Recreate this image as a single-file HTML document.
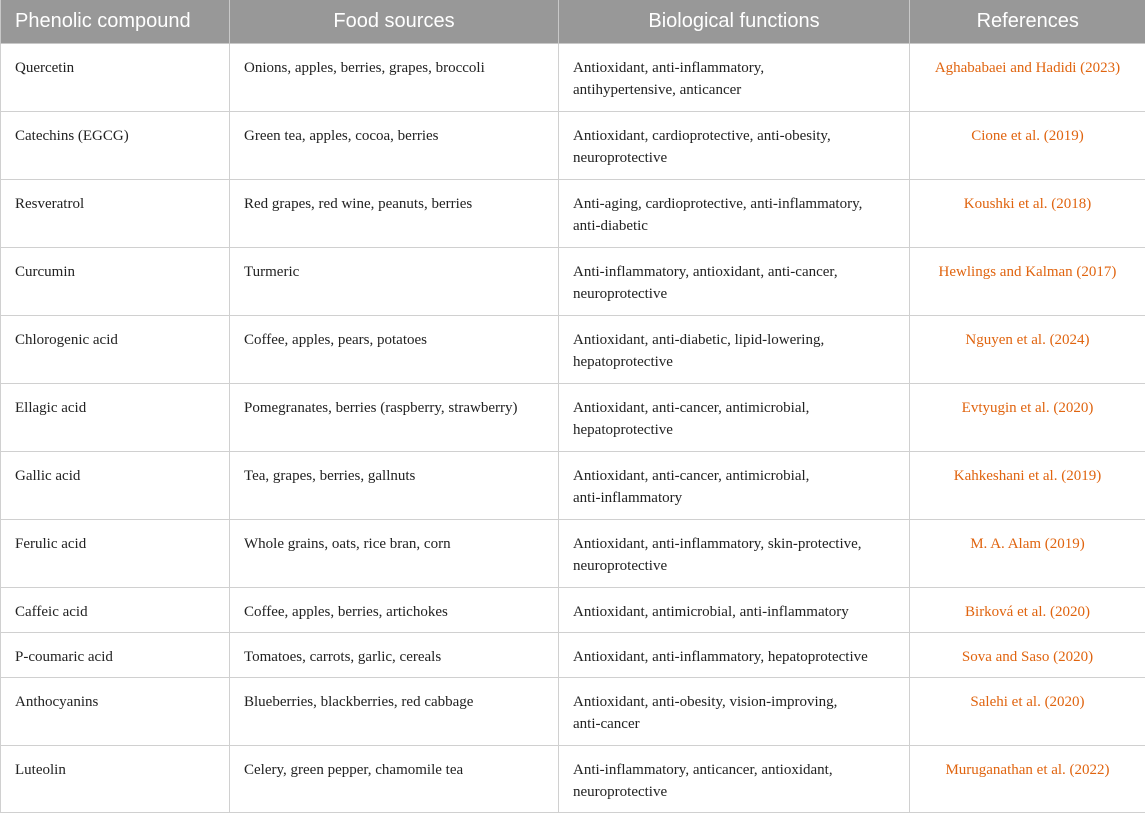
<!DOCTYPE html>
<html><head><meta charset="utf-8"><style>
html,body{margin:0;padding:0;background:#fff;width:1145px;height:813px;overflow:hidden}
table{border-collapse:collapse;table-layout:fixed;width:1145px;position:absolute;left:0;top:0}
th{background:#989898;color:#fff;font:20px "Liberation Sans",sans-serif;font-weight:normal;height:43px;padding:0;text-align:center;border-left:1px solid #c8c8c8;border-bottom:1px solid #c8c8c8}
th:first-child{text-align:left;padding-left:14px}
td{font:15px/22px "Liberation Serif",serif;color:#222;vertical-align:top;padding:13px 13px 0 14px;border:1px solid #d0d0d0;box-sizing:border-box}
tr.r td{height:68px}
tr.s td{height:45px}
tr.last td{height:67px}
td.ref{color:#e0640f;text-align:center;padding-left:4px;padding-right:4px}
</style></head><body>
<table>
<colgroup><col style="width:229px"><col style="width:329px"><col style="width:351px"><col style="width:236px"></colgroup>
<tr><th>Phenolic compound</th><th>Food sources</th><th>Biological functions</th><th>References</th></tr>
<tr class="r"><td>Quercetin</td><td>Onions, apples, berries, grapes, broccoli</td><td>Antioxidant, anti-inflammatory,<br>antihypertensive, anticancer</td><td class="ref">Aghababaei and Hadidi (2023)</td></tr>
<tr class="r"><td>Catechins (EGCG)</td><td>Green tea, apples, cocoa, berries</td><td>Antioxidant, cardioprotective, anti-obesity,<br>neuroprotective</td><td class="ref">Cione et al. (2019)</td></tr>
<tr class="r"><td>Resveratrol</td><td>Red grapes, red wine, peanuts, berries</td><td>Anti-aging, cardioprotective, anti-inflammatory,<br>anti-diabetic</td><td class="ref">Koushki et al. (2018)</td></tr>
<tr class="r"><td>Curcumin</td><td>Turmeric</td><td>Anti-inflammatory, antioxidant, anti-cancer,<br>neuroprotective</td><td class="ref">Hewlings and Kalman (2017)</td></tr>
<tr class="r"><td>Chlorogenic acid</td><td>Coffee, apples, pears, potatoes</td><td>Antioxidant, anti-diabetic, lipid-lowering,<br>hepatoprotective</td><td class="ref">Nguyen et al. (2024)</td></tr>
<tr class="r"><td>Ellagic acid</td><td>Pomegranates, berries (raspberry, strawberry)</td><td>Antioxidant, anti-cancer, antimicrobial,<br>hepatoprotective</td><td class="ref">Evtyugin et al. (2020)</td></tr>
<tr class="r"><td>Gallic acid</td><td>Tea, grapes, berries, gallnuts</td><td>Antioxidant, anti-cancer, antimicrobial,<br>anti-inflammatory</td><td class="ref">Kahkeshani et al. (2019)</td></tr>
<tr class="r"><td>Ferulic acid</td><td>Whole grains, oats, rice bran, corn</td><td>Antioxidant, anti-inflammatory, skin-protective,<br>neuroprotective</td><td class="ref">M. A. Alam (2019)</td></tr>
<tr class="s"><td>Caffeic acid</td><td>Coffee, apples, berries, artichokes</td><td>Antioxidant, antimicrobial, anti-inflammatory</td><td class="ref">Birková et al. (2020)</td></tr>
<tr class="s"><td>P-coumaric acid</td><td>Tomatoes, carrots, garlic, cereals</td><td>Antioxidant, anti-inflammatory, hepatoprotective</td><td class="ref">Sova and Saso (2020)</td></tr>
<tr class="r"><td>Anthocyanins</td><td>Blueberries, blackberries, red cabbage</td><td>Antioxidant, anti-obesity, vision-improving,<br>anti-cancer</td><td class="ref">Salehi et al. (2020)</td></tr>
<tr class="last"><td>Luteolin</td><td>Celery, green pepper, chamomile tea</td><td>Anti-inflammatory, anticancer, antioxidant,<br>neuroprotective</td><td class="ref">Muruganathan et al. (2022)</td></tr>
</table>
</body></html>
